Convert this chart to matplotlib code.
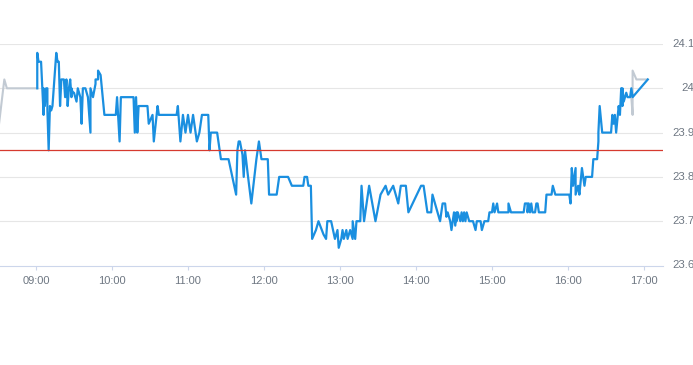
import matplotlib
matplotlib.use("Agg")
import matplotlib.pyplot as plt
import matplotlib.dates as mdates
import pandas as pd

plt.rcParams["font.family"] = ["Liberation Sans", "DejaVu Sans"]

day = "2024-01-02"

# pre-market (grey)
pre_times = ["08:30", "08:35", "08:37", "09:01"]
pre_prices = [23.90, 24.02, 24.00, 24.00]

# regular session (blue)
times = [
    "09:01", "09:01", "09:02", "09:04", "09:05", "09:06", "09:06", "09:07", "09:08", "09:09",
    "09:09", "09:10", "09:11", "09:12", "09:13", "09:15", "09:16", "09:17", "09:18", "09:19",
    "09:20", "09:22", "09:23", "09:24", "09:25", "09:26", "09:27", "09:28", "09:28", "09:29",
    "09:30", "09:31", "09:32", "09:33", "09:35", "09:36", "09:37", "09:39", "09:41", "09:43",
    "09:43", "09:45", "09:47", "09:47", "09:49", "09:49", "09:51", "09:52", "09:54", "10:03",
    "10:04", "10:06", "10:07", "10:17", "10:18", "10:19", "10:20", "10:21", "10:28", "10:29",
    "10:32", "10:33", "10:36", "10:37", "10:51", "10:52", "10:54", "10:56", "10:58", "11:00",
    "11:02", "11:04", "11:07", "11:09", "11:11", "11:16", "11:17", "11:18", "11:23", "11:26",
    "11:32", "11:35", "11:38", "11:39", "11:40", "11:41", "11:43", "11:44", "11:45", "11:47",
    "11:50", "11:54", "11:56", "11:58", "12:03", "12:04", "12:10", "12:12", "12:19", "12:22",
    "12:31", "12:32", "12:34", "12:35", "12:37", "12:38", "12:41", "12:43", "12:47", "12:49",
    "12:50", "12:53", "12:56", "12:58", "12:59", "13:01", "13:02", "13:03", "13:05", "13:06",
    "13:08", "13:10", "13:10", "13:12", "13:13", "13:16", "13:17", "13:19", "13:23", "13:28",
    "13:32", "13:36", "13:38", "13:42", "13:46", "13:48", "13:52", "13:54", "13:59", "14:04",
    "14:06", "14:09", "14:12", "14:13", "14:15", "14:17", "14:19", "14:21", "14:23", "14:24",
    "14:25", "14:27", "14:28", "14:30", "14:31", "14:32", "14:32", "14:33", "14:35", "14:36",
    "14:37", "14:38", "14:39", "14:40", "14:42", "14:45", "14:47", "14:48", "14:51", "14:52",
    "14:54", "14:57", "14:58", "15:00", "15:01", "15:02", "15:04", "15:05", "15:13", "15:13",
    "15:15", "15:25", "15:26", "15:28", "15:28", "15:29", "15:30", "15:31", "15:32", "15:34",
    "15:35", "15:36", "15:37", "15:42", "15:43", "15:47", "15:48", "15:50", "16:01", "16:02",
    "16:03", "16:04", "16:06", "16:06", "16:08", "16:09", "16:10", "16:11", "16:13", "16:14",
    "16:19", "16:20", "16:23", "16:24", "16:24", "16:25", "16:27", "16:34", "16:35", "16:36",
    "16:37", "16:38", "16:40", "16:41", "16:42", "16:43", "16:43", "16:44", "16:46", "16:47",
    "16:49", "16:50", "16:51", "17:03",
]
prices = [
    24.00, 24.08, 24.06, 24.06, 24.00, 23.94, 24.00, 23.96, 24.00, 24.00,
    23.95, 23.86, 23.96, 23.95, 23.96, 24.04, 24.08, 24.06, 24.06, 23.96,
    24.02, 24.02, 23.98, 24.02, 23.96, 24.00, 24.02, 23.98, 24.00, 23.99,
    23.99, 23.98, 23.97, 24.00, 23.98, 23.92, 24.00, 24.00, 23.98, 23.90,
    24.00, 23.98, 24.01, 24.02, 24.02, 24.04, 24.03, 24.00, 23.94, 23.94,
    23.98, 23.88, 23.98, 23.98, 23.90, 23.98, 23.90, 23.96, 23.96, 23.92,
    23.94, 23.88, 23.96, 23.94, 23.94, 23.96, 23.88, 23.94, 23.90, 23.94,
    23.90, 23.94, 23.88, 23.90, 23.94, 23.94, 23.86, 23.90, 23.90, 23.84,
    23.84, 23.80, 23.76, 23.86, 23.88, 23.88, 23.85, 23.80, 23.86, 23.81,
    23.74, 23.84, 23.88, 23.84, 23.84, 23.76, 23.76, 23.80, 23.80, 23.78,
    23.78, 23.80, 23.80, 23.78, 23.78, 23.66, 23.68, 23.70, 23.67, 23.66,
    23.70, 23.70, 23.66, 23.68, 23.64, 23.66, 23.68, 23.66, 23.68, 23.66,
    23.68, 23.66, 23.70, 23.66, 23.70, 23.70, 23.78, 23.70, 23.78, 23.70,
    23.76, 23.78, 23.76, 23.78, 23.74, 23.78, 23.78, 23.72, 23.75, 23.78,
    23.78, 23.72, 23.72, 23.76, 23.74, 23.72, 23.70, 23.74, 23.74, 23.71,
    23.72, 23.70, 23.68, 23.72, 23.69, 23.72, 23.70, 23.72, 23.70, 23.72,
    23.70, 23.72, 23.70, 23.72, 23.70, 23.70, 23.68, 23.70, 23.70, 23.68,
    23.70, 23.70, 23.72, 23.72, 23.74, 23.72, 23.74, 23.72, 23.72, 23.74,
    23.72, 23.72, 23.74, 23.74, 23.72, 23.74, 23.72, 23.74, 23.72, 23.72,
    23.74, 23.74, 23.72, 23.72, 23.76, 23.76, 23.78, 23.76, 23.76, 23.74,
    23.82, 23.78, 23.82, 23.76, 23.78, 23.76, 23.79, 23.82, 23.78, 23.80,
    23.80, 23.84, 23.84, 23.88, 23.90, 23.96, 23.90, 23.90, 23.94, 23.92,
    23.94, 23.90, 23.96, 23.94, 24.00, 23.96, 24.00, 23.97, 23.99, 23.98,
    23.98, 24.00, 23.98, 24.02,
]

# after-hours (grey)
post_times = ["16:50", "16:51", "16:51", "16:54", "17:02"]
post_prices = [23.98, 23.94, 24.04, 24.02, 24.02]

ref_price = 23.86
y_ticks = [23.6, 23.7, 23.8, 23.9, 24.0, 24.1]
y_tick_labels = ["23.6", "23.7", "23.8", "23.9", "24", "24.1"]
x_tick_labels = ["09:00", "10:00", "11:00", "12:00", "13:00", "14:00", "15:00", "16:00", "17:00"]
x_range = ["08:31:35", "17:15:00"]


def to_dt(lst):
    return pd.to_datetime([f"{day} {t}" for t in lst], format="mixed")


W, H = 693, 365
fig = plt.figure(figsize=(W / 100, H / 100), dpi=100)
ax = fig.add_axes([0, 1 - 265.5 / H, 663 / W, (265.5 - 44) / H])

grey = "#c2cad3"
blue = "#1a8fe0"
ax.plot(to_dt(pre_times), pre_prices, color=grey, lw=1.5, zorder=3)
ax.plot(to_dt(post_times), post_prices, color=grey, lw=1.5, zorder=3)
ax.plot(to_dt(times), prices, color=blue, lw=1.6, zorder=4)
ax.axhline(ref_price, color="#d63a2f", lw=0.9, zorder=5)

xr = to_dt(x_range)
ax.set_xlim(xr[0], xr[1])
ax.set_ylim(y_ticks[0], y_ticks[-1])

ax.set_yticks(y_ticks)
ax.set_yticklabels(y_tick_labels)
ax.set_xticks(to_dt(x_tick_labels))
ax.xaxis.set_major_formatter(mdates.DateFormatter("%H:%M"))

for t in y_ticks[1:]:
    ax.axhline(t, color="#e6e6e6", lw=0.8, zorder=1)

for s in ["top", "left", "right"]:
    ax.spines[s].set_visible(False)
ax.spines["bottom"].set_color("#ccd6eb")
ax.spines["bottom"].set_linewidth(0.8)

label_color = "#6e7782"
ax.yaxis.tick_right()
ax.tick_params(axis="y", length=0, pad=22.7, labelsize=8.2, labelcolor=label_color)
for lab in ax.get_yticklabels():
    lab.set_horizontalalignment("right")
    lab.set_verticalalignment("center")
ax.tick_params(axis="x", length=2.8, width=0.8, color="#ccd6eb", pad=4.5,
               labelsize=8.0, labelcolor=label_color)

fig.savefig("out.png", dpi=100)
